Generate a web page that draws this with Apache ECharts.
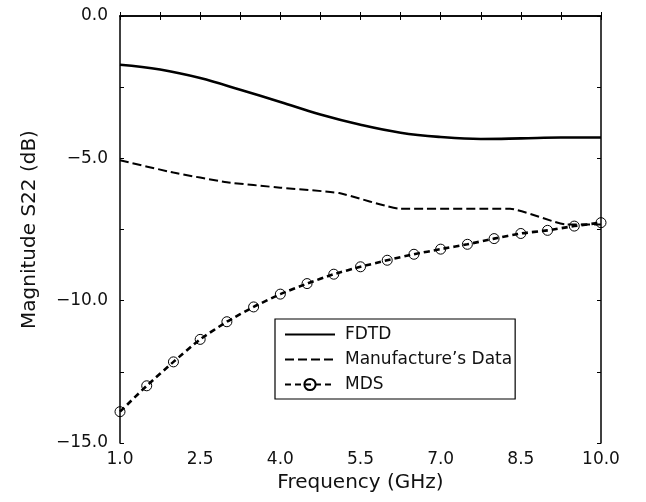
<!DOCTYPE html>
<html>
<head>
<meta charset="utf-8">
<script src="https://cdn.jsdelivr.net/npm/echarts@6/dist/echarts.min.js"></script>
<style>html,body{margin:0;padding:0;background:#fff}#c{width:646px;height:502px}</style>
</head>
<body>
<div id="c"></div>
<script>
// Frequency (GHz) samples and values (dB)
const fdtdFreq = [1.0, 1.75, 2.5, 3.25, 4.0, 4.75, 5.5, 6.25, 7.0, 7.75, 8.5, 9.25, 10.0];
const fdtdVals = [-1.71, -1.88, -2.18, -2.59, -3.02, -3.46, -3.82, -4.10, -4.25, -4.32, -4.30, -4.27, -4.27];

const manuFreq = [1.0, 2.0, 3.0, 4.0, 5.1, 6.25, 8.3, 9.35, 10.0];
const manuVals = [-5.07, -5.50, -5.84, -6.03, -6.22, -6.77, -6.77, -7.32, -7.32];

const mdsFreq = [1.0, 1.5, 2.0, 2.5, 3.0, 3.5, 4.0, 4.5, 5.0, 5.5, 6.0, 6.5, 7.0, 7.5, 8.0, 8.5, 9.0, 9.5, 10.0];
const mdsVals = [-13.90, -12.99, -12.15, -11.36, -10.74, -10.22, -9.77, -9.40, -9.07, -8.81, -8.58, -8.37, -8.19, -8.02, -7.82, -7.64, -7.53, -7.38, -7.26];

const xLabelTicks = [1.0, 2.5, 4.0, 5.5, 7.0, 8.5, 10.0];
const xMinorTicks = [1.0, 1.75, 2.5, 3.25, 4.0, 4.75, 5.5, 6.25, 7.0, 7.75, 8.5, 9.25, 10.0];
const yLabelTicks = [0, -5, -10, -15];
const yMinorTicks = [0, -2.5, -5, -7.5, -10, -12.5, -15];

const zip = (a, b) => a.map((v, i) => [v, b[i]]);
const FONT = 'DejaVu Sans';

const chart = echarts.init(document.getElementById('c'), null, {renderer: 'canvas'});
const baseX = {
  type: 'value', min: 1, max: 10,
  axisLine: {show: true, lineStyle: {color: '#000', width: 1.5}},
  splitLine: {show: false}
};
const baseY = {
  type: 'value', min: -15, max: 0,
  axisLine: {show: true, lineStyle: {color: '#000', width: 1.5}},
  splitLine: {show: false}
};
chart.setOption({
  animation: false,
  backgroundColor: '#fff',
  grid: {left: 120, right: 45, top: 16, bottom: 59, containLabel: false},
  xAxis: [
    Object.assign({}, baseX, {
      position: 'bottom',
      name: 'Frequency (GHz)', nameLocation: 'middle', nameGap: 30,
      nameTextStyle: {fontFamily: FONT, fontSize: 20, color: '#111'},
      axisTick: {show: true, inside: true, length: 4, customValues: xMinorTicks, lineStyle: {color: '#000'}},
      axisLabel: {show: true, customValues: xLabelTicks, margin: 8, fontFamily: FONT, fontSize: 17, color: '#111',
        formatter: v => v.toFixed(1)}
    }),
    Object.assign({}, baseX, {
      position: 'top',
      axisTick: {show: true, inside: true, length: 4, customValues: xMinorTicks, lineStyle: {color: '#000'}},
      axisLabel: {show: false}
    })
  ],
  yAxis: [
    Object.assign({}, baseY, {
      position: 'left',
      name: 'Magnitude S22 (dB)', nameLocation: 'middle', nameGap: 80, nameRotate: 90,
      nameTextStyle: {fontFamily: FONT, fontSize: 20, color: '#111'},
      axisTick: {show: true, inside: true, length: 4, customValues: yMinorTicks, lineStyle: {color: '#000'}},
      axisLabel: {show: true, customValues: yLabelTicks, margin: 12, fontFamily: FONT, fontSize: 17, color: '#111',
        formatter: v => (v < 0 ? '\u2212' + Math.abs(v).toFixed(1) : v.toFixed(1))}
    }),
    Object.assign({}, baseY, {
      position: 'right',
      axisTick: {show: true, inside: true, length: 4, customValues: yMinorTicks, lineStyle: {color: '#000'}},
      axisLabel: {show: false}
    })
  ],
  legend: {
    left: 275, top: 319, orient: 'vertical',
    backgroundColor: '#fff',
    borderColor: '#000', borderWidth: 1.2,
    padding: [7, 3, 6, 9],
    itemWidth: 50, itemHeight: 14, itemGap: 8,
    textStyle: {fontFamily: FONT, fontSize: 17, color: '#111', padding: [0, 0, 0, 5]},
    data: ['FDTD', 'Manufacture\u2019s Data', 'MDS']
  },
  series: [
    {
      name: 'FDTD', type: 'line', xAxisIndex: 0, yAxisIndex: 0,
      data: zip(fdtdFreq, fdtdVals), smooth: 0.4, showSymbol: false, symbol: 'circle', symbolSize: 1,
      lineStyle: {color: '#000', width: 2.6, type: 'solid'},
      itemStyle: {color: 'rgba(0,0,0,0)'}
    },
    {
      name: 'Manufacture\u2019s Data', type: 'line', xAxisIndex: 0, yAxisIndex: 0,
      data: zip(manuFreq, manuVals), smooth: 0.15, showSymbol: false, symbol: 'circle', symbolSize: 1,
      lineStyle: {color: '#000', width: 2, type: [9, 4]},
      itemStyle: {color: 'rgba(0,0,0,0)'}
    },
    {
      name: 'MDS', type: 'line', xAxisIndex: 0, yAxisIndex: 0,
      data: zip(mdsFreq, mdsVals), smooth: 0.2, symbol: 'circle', symbolSize: 10, showSymbol: true,
      lineStyle: {color: '#000', width: 2.6, type: [6, 4]},
      itemStyle: {color: 'rgba(255,255,255,0)', borderColor: '#000', borderWidth: 1}
    }
  ]
});
</script>
</body>
</html>
